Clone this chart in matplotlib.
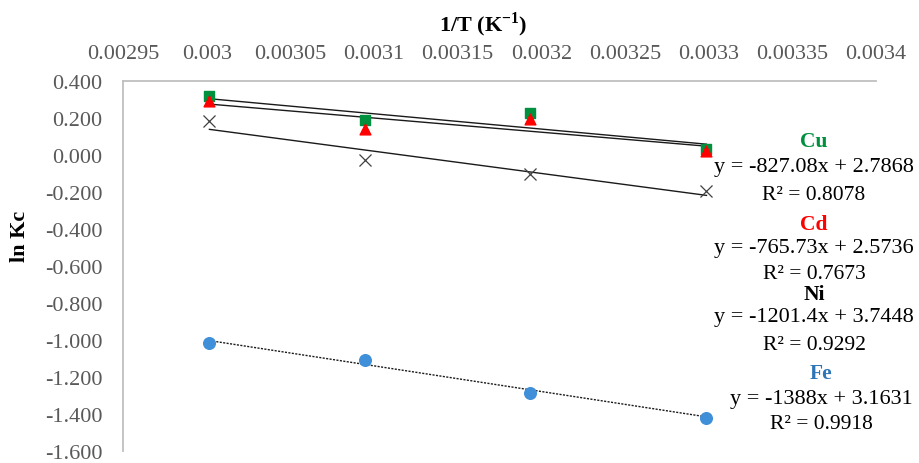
import numpy as np
import matplotlib.pyplot as plt

plt.rcParams['font.family'] = ['Liberation Serif', 'DejaVu Serif']
plt.rcParams['mathtext.fontset'] = 'custom'
plt.rcParams['mathtext.rm'] = 'Liberation Serif'
plt.rcParams['mathtext.bf'] = 'Liberation Serif:bold'

# 1/T values (K^-1)
inv_T = [1 / 333.15, 1 / 323.15, 1 / 313.15, 1 / 303.15]

cu = [0.319, 0.189, 0.227, 0.032]
cd = [0.292, 0.140, 0.195, 0.022]
ni = [0.184, -0.027, -0.100, -0.195]
fe = [-1.015, -1.110, -1.285, -1.420]

metals = ['Cu', 'Cd', 'Ni', 'Fe']
slopes = [-827.08, -765.73, -1201.4, -1388]
intercepts = [2.7868, 2.5736, 3.7448, 3.1631]
r2 = [0.8078, 0.7673, 0.9292, 0.9918]
eq_labels = ['y = -827.08x + 2.7868', 'y = -765.73x + 2.5736',
             'y = -1201.4x + 3.7448', 'y = -1388x + 3.1631']
label_colors = ['#00913F', '#FF0000', '#000000', '#2E75B6']
x_ticks = ['0.00295', '0.003', '0.00305', '0.0031', '0.00315', '0.0032',
           '0.00325', '0.0033', '0.00335', '0.0034']

W, H = 919, 464
fig = plt.figure(figsize=(W / 100, H / 100), dpi=100)
ax = fig.add_axes([123 / W, 1 - 452 / H, (876 - 123) / W, (452 - 82) / H])

ax.scatter(inv_T, cu, marker='s', s=55, color='#00913F', zorder=3)
ax.scatter(inv_T, cd, marker='^', s=60, color='#FF0000', zorder=4)
ax.scatter(inv_T, ni, marker='x', s=75, color='#404040', linewidths=0.9, zorder=3)
ax.scatter(inv_T, fe, marker='o', s=70, color='#3F8FD9', zorder=3)

xl = np.array([inv_T[0], inv_T[-1]])
for i, m in enumerate(metals):
    ls = (0, (1.5, 1)) if m == 'Fe' else '-'
    ax.plot(xl, slopes[i] * xl + intercepts[i], color='#1a1a1a', lw=1.0, ls=ls, zorder=2)

ax.set_xlim(0.00295, 0.0034)
ax.set_ylim(-1.6, 0.4)
ax.set_xticks(np.linspace(0.00295, 0.0034, 10))
ax.set_xticklabels(x_ticks)
yt = np.round(np.linspace(-1.6, 0.4, 11), 1)
ax.set_yticks(yt)
ax.set_yticklabels(['%.3f' % (v + 0.0) for v in yt])
ax.xaxis.tick_top()
ax.tick_params(axis='both', length=0, labelsize=16, colors='#595959')
ax.tick_params(axis='x', pad=13)
ax.tick_params(axis='y', pad=15)
for s in ['right', 'bottom']:
    ax.spines[s].set_visible(False)
for s in ['top', 'left']:
    ax.spines[s].set_color('#BFBFBF')
    ax.spines[s].set_linewidth(1.3)

fig.text(483 / W, 1 - 25 / H, r'1/T (K$^{\mathbf{-1}}$)', fontsize=16,
         fontweight='bold', ha='center', va='center')
fig.text(20 / W, 1 - 236 / H, 'ln Kc', fontsize=16, fontweight='bold',
         rotation=90, ha='center', va='center')

# trendline labels
name_y = [142, 225, 295, 374]
eq_y = [168, 249, 318, 400]
r2_y = [195, 275, 346, 425]
cx = [814, 814, 814, 821]
for i in range(4):
    fig.text(cx[i] / W, 1 - name_y[i] / H, metals[i], color=label_colors[i],
             fontsize=15.5, fontweight='bold', ha='center', va='center')
    fig.text(cx[i] / W, 1 - eq_y[i] / H, eq_labels[i], fontsize=16,
             ha='center', va='center')
    fig.text(cx[i] / W, 1 - r2_y[i] / H, 'R² = %.4f' % r2[i], fontsize=15.5,
             ha='center', va='center')

fig.savefig('out.png', dpi=100)
